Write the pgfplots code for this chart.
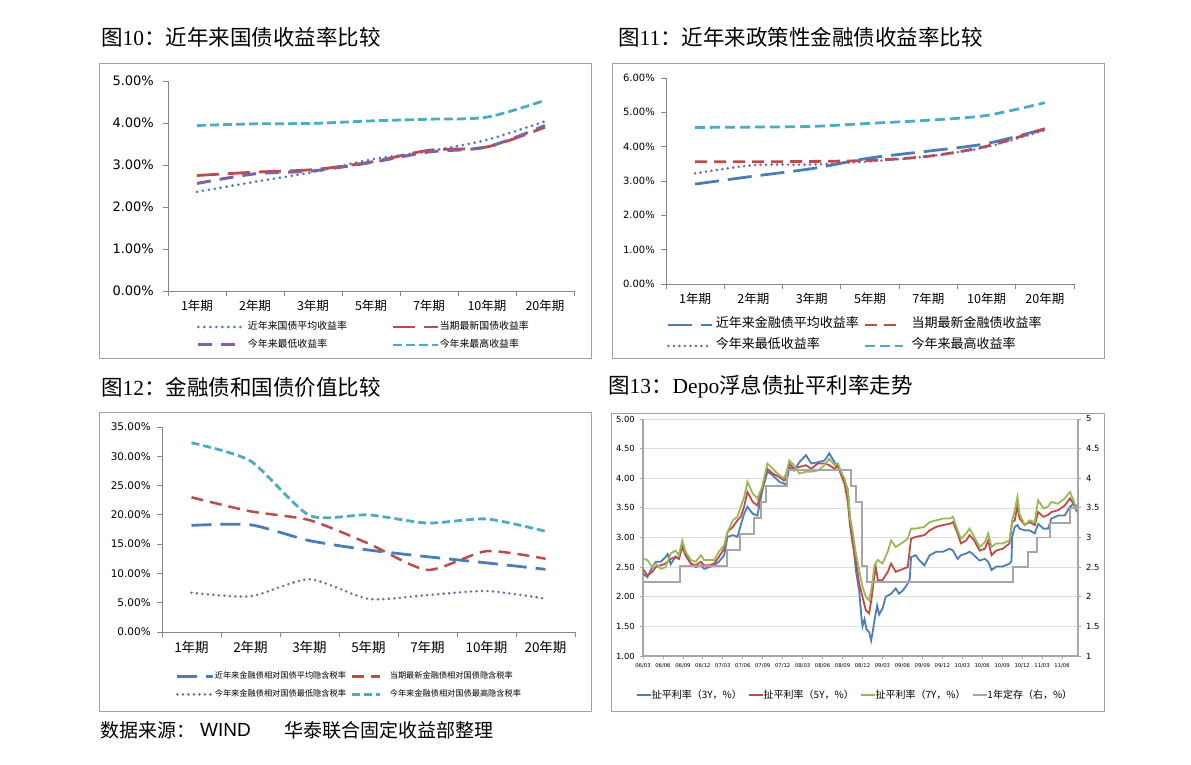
\documentclass[border=0pt]{standalone}
\usepackage{fontspec}
\usepackage{pgfplots}
\pgfplotsset{compat=1.18}
\setmainfont{Liberation Serif}
\newfontfamily\cjk{Noto Sans CJK SC}
\newfontfamily\dvs{DejaVu Sans}
\newfontfamily\ars{Liberation Sans}

\definecolor{xlblue}{HTML}{4A7EBB}
\definecolor{xlred}{HTML}{BE4B48}
\definecolor{xlpurple}{HTML}{7F62A1}
\definecolor{xlcyan}{HTML}{4BACC6}
\definecolor{xlgreen}{HTML}{98B954}
\definecolor{xlgray}{HTML}{A6A6A6}
\definecolor{axgray}{HTML}{868686}
\definecolor{framegray}{HTML}{A0A0A0}
\definecolor{gridgray}{HTML}{DDDDDD}

\pgfplotsset{
  tenor/.style={
    scale only axis, anchor=south west, axis lines*=left,
    axis line style={axgray, line width=0.9pt},
    xmin=0.5, xmax=7.5, xtick={1,...,7},
    xticklabels={1年期,2年期,3年期,5年期,7年期,10年期,20年期},
    minor xtick={0.5,1.5,...,7.5},
    major x tick style={draw=none},
    minor x tick style={axgray, line width=0.9pt},
    y tick style={axgray, line width=0.9pt},
    tick align=outside, major tick length=5pt, minor tick length=5pt,
    yticklabel style={inner sep=0pt, xshift=-6pt},
    xticklabel style={inner sep=0pt, yshift=-4pt},
    clip=false,
    legend cell align=left,
    legend style={draw=none, fill=none, inner sep=0pt, outer sep=0pt,
      anchor=north west, legend columns=2,
      nodes={inner sep=0pt, text height=7pt, text depth=2pt}},
  },
  sample/.style={legend image code/.code={\draw[##1] (0pt,0pt) -- (#1,0pt);}},
  dots/.style={line cap=round, dash pattern=on 0pt off #1},
}

\begin{document}
\begin{tikzpicture}[x=1pt,y=1pt]
\useasboundingbox (0,0) rectangle (1191,765);

% frames
\draw[framegray, line width=0.9pt] (99,702) rectangle (591,407);
\draw[framegray, line width=0.9pt] (612,702) rectangle (1104,407);
\draw[framegray, line width=0.9pt] (99,353) rectangle (591,54);
\draw[framegray, line width=0.9pt] (611,352) rectangle (1104,54);

% titles
\node[anchor=west, inner sep=0pt] at (101,728) {\fontsize{21.5}{24}\selectfont{\cjk 图}10{\cjk ：近年来国债收益率比较}};
\node[anchor=west, inner sep=0pt] at (618,728) {\fontsize{21.5}{24}\selectfont{\cjk 图}11{\cjk ：近年来政策性金融债收益率比较}};
\node[anchor=west, inner sep=0pt] at (101,378) {\fontsize{21.5}{24}\selectfont{\cjk 图}12{\cjk ：金融债和国债价值比较}};
\node[anchor=west, inner sep=0pt] at (608,378) {\fontsize{21.5}{24}\selectfont{\cjk 图}13{\cjk ：}Depo{\cjk 浮息债扯平利率走势}};

% source line
\node[anchor=west, inner sep=0pt] at (100,35) {\fontsize{19}{22}\selectfont\cjk 数据来源：};
\node[anchor=west, inner sep=0pt] at (200,35) {\fontsize{19}{22}\selectfont\ars WIND};
\node[anchor=west, inner sep=0pt] at (284,35) {\fontsize{19}{22}\selectfont\cjk 华泰联合固定收益部整理};

% ---------- government bond yields ----------
\begin{axis}[tenor, at={(168pt,474pt)}, width=406pt, height=210pt,
  ymin=0, ymax=5, ytick={0,...,5},
  yticklabels={0.00\%,1.00\%,2.00\%,3.00\%,4.00\%,5.00\%},
  yticklabel style={font=\dvs\fontsize{13}{14}\selectfont, xshift=-3pt},
  xticklabel style={font=\cjk\fontsize{12.5}{14}\selectfont},
  legend style={at={(0.0714,-0.150)}, font=\cjk\fontsize{9.9}{12}\selectfont,
    row sep=9pt,
    /tikz/every odd column/.append style={column sep=6pt},
    /tikz/every even column/.append style={column sep=45pt}},
]
\addplot[xlblue, line width=3pt, dots=6pt, smooth, sample=42pt]
  coordinates {(1,2.36)(2,2.60)(3,2.83)(4,3.13)(5,3.33)(6,3.60)(7,4.04)};
\addlegendentry{近年来国债平均收益率}
\addplot[xlred, line width=2.8pt, dash pattern=on 22pt off 9pt, smooth, sample=45pt]
  coordinates {(1,2.75)(2,2.83)(3,2.89)(4,3.07)(5,3.35)(6,3.43)(7,3.90)};
\addlegendentry{\hspace{-6pt}当期最新国债收益率}
\addplot[xlpurple, line width=3pt, dash pattern=on 14pt off 9pt, smooth, sample=42pt]
  coordinates {(1,2.56)(2,2.79)(3,2.86)(4,3.06)(5,3.31)(6,3.43)(7,3.94)};
\addlegendentry{今年来最低收益率}
\addplot[xlcyan, line width=2.8pt, dash pattern=on 9pt off 4pt, smooth, sample=45pt]
  coordinates {(1,3.94)(2,3.98)(3,3.99)(4,4.05)(5,4.09)(6,4.14)(7,4.54)};
\addlegendentry{\hspace{-6pt}今年来最高收益率}
\end{axis}

% ---------- policy bank bond yields ----------
\begin{axis}[tenor, at={(666pt,481pt)}, width=408pt, height=206pt,
  ymin=0, ymax=6, ytick={0,...,6},
  yticklabels={0.00\%,1.00\%,2.00\%,3.00\%,4.00\%,5.00\%,6.00\%},
  yticklabel style={font=\dvs\fontsize{10}{12}\selectfont},
  xticklabel style={font=\cjk\fontsize{12.5}{14}\selectfont},
  legend style={at={(0.0025,-0.177)}, font=\cjk\fontsize{13}{15}\selectfont,
    row sep=12pt,
    /tikz/every odd column/.append style={column sep=2pt},
    /tikz/every even column/.append style={column sep=5pt}},
]
\addplot[xlblue, line width=2.8pt, dash pattern=on 24pt off 9pt, smooth, sample=44pt]
  coordinates {(1,2.91)(2,3.14)(3,3.36)(4,3.67)(5,3.87)(6,4.09)(7,4.52)};
\addlegendentry{近年来金融债平均收益率}
\addplot[xlred, line width=2.8pt, dash pattern=on 12pt off 7pt, smooth, sample=38pt]
  coordinates {(1,3.56)(2,3.56)(3,3.57)(4,3.60)(5,3.72)(6,4.01)(7,4.52)};
\addlegendentry{\hspace{5pt}当期最新金融债收益率}
\addplot[xlpurple, line width=2.8pt, dots=5.5pt, smooth, sample=39pt]
  coordinates {(1,3.22)(2,3.46)(3,3.48)(4,3.57)(5,3.72)(6,3.99)(7,4.48)};
\addlegendentry{今年来最低收益率}
\addplot[xlcyan, line width=2.8pt, dash pattern=on 10pt off 5pt, smooth, sample=38pt]
  coordinates {(1,4.56)(2,4.57)(3,4.59)(4,4.68)(5,4.77)(6,4.91)(7,5.28)};
\addlegendentry{\hspace{5pt}今年来最高收益率}
\end{axis}

% ---------- implied tax rate ----------
\begin{axis}[tenor, at={(162pt,133pt)}, width=413pt, height=205pt,
  ymin=0, ymax=35, ytick={0,5,...,35},
  yticklabels={0.00\%,5.00\%,10.00\%,15.00\%,20.00\%,25.00\%,30.00\%,35.00\%},
  yticklabel style={font=\dvs\fontsize{10.5}{12}\selectfont},
  xticklabel style={font=\cjk\fontsize{13.5}{15}\selectfont},
  legend style={at={(0.0339,-0.195)}, font=\cjk\fontsize{8.2}{10}\selectfont,
    row sep=9pt,
    /tikz/every odd column/.append style={column sep=0pt},
    /tikz/every even column/.append style={column sep=5pt}},
]
\addplot[xlblue, line width=2.8pt, dash pattern=on 20pt off 9pt, smooth, tension=0.4, sample=36pt]
  coordinates {(1,18.2)(2,18.3)(3,15.6)(4,14.0)(5,12.85)(6,11.8)(7,10.7)};
\addlegendentry{近年来金融债相对国债平均隐含税率}
\addplot[xlred, line width=2.5pt, dash pattern=on 12pt off 7pt, smooth, tension=0.4, sample=28pt]
  coordinates {(1,23.0)(2,20.6)(3,19.1)(4,15.1)(5,10.6)(6,13.8)(7,12.5)};
\addlegendentry{\hspace{8pt}当期最新金融债相对国债隐含税率}
\addplot[xlpurple, line width=2.8pt, dots=5.5pt, smooth, tension=0.4, sample=36pt]
  coordinates {(1,6.7)(2,6.1)(3,9.0)(4,5.65)(5,6.3)(6,7.0)(7,5.7)};
\addlegendentry{今年来金融债相对国债最低隐含税率}
\addplot[xlcyan, line width=2.8pt, dash pattern=on 8pt off 4pt, smooth, tension=0.4, sample=28pt]
  coordinates {(1,32.3)(2,29.2)(3,19.9)(4,20.0)(5,18.6)(6,19.3)(7,17.2)};
\addlegendentry{\hspace{8pt}今年来金融债相对国债最高隐含税率}
\end{axis}

% ---------- Depo floater break-even rates (x: months from 2006/03) ----------
\begin{axis}[scale only axis, anchor=south west, at={(643pt,109pt)}, width=435pt, height=237pt,
  xmin=0, xmax=65.4, ymin=1, ymax=5,
  axis x line*=bottom, axis y line*=left,
  axis line style={xlgray, line width=1.2pt},
  ytick={1,1.5,...,5},
  yticklabels={1.00,1.50,2.00,2.50,3.00,3.50,4.00,4.50,5.00},
  ymajorgrids, major grid style={gridgray, line width=0.6pt},
  xtick={0,3,...,63},
  xticklabels={06/03,06/06,06/09,06/12,07/03,07/06,07/09,07/12,08/03,08/06,08/09,08/12,09/03,09/06,09/09,09/12,10/03,10/06,10/09,10/12,11/03,11/06},
  tick align=outside, major tick length=3pt, tick style={xlgray, line width=0.8pt},
  yticklabel style={font=\dvs\fontsize{8.4}{10}\selectfont, inner sep=0pt, xshift=-5pt},
  xticklabel style={font=\dvs\fontsize{5.3}{6}\selectfont, inner sep=0pt, yshift=-4pt},
  legend columns=4, legend cell align=left,
  legend style={draw=none, fill=none, inner sep=0pt, outer sep=0pt,
    at={(-0.016,-0.164)}, anchor=west, font=\cjk\fontsize{10}{12}\selectfont,
    nodes={inner sep=0pt},
    /tikz/every odd column/.append style={column sep=0pt},
    /tikz/every even column/.append style={column sep=6pt}},
  legend image code/.code={\draw[#1] (0pt,0pt) -- (14pt,0pt);},
]
\addplot[xlblue, line width=1.8pt] coordinates {
(0,2.39)(0.65,2.33)(1.4,2.50)(1.9,2.59)(2.66,2.59)(3.4,2.67)(3.7,2.72)(4.17,2.55)
(4.9,2.68)(5.4,2.64)(5.9,2.87)(6.4,2.70)(7.2,2.56)(7.93,2.50)(8.7,2.53)(9.2,2.47)
(9.94,2.50)(10.7,2.53)(11.4,2.59)(12.2,2.70)(12.7,3.01)(13.5,3.04)(14.2,3.01)(14.7,3.21)
(15.2,3.40)(15.7,3.52)(16.5,3.40)(17.2,3.37)(17.9,3.77)(18.7,4.11)(19.5,4.05)(20.5,3.94)
(21.2,3.91)(21.5,3.88)(22.0,4.19)(22.7,4.13)(23.5,4.27)(24.5,4.39)(25.3,4.25)(26.3,4.27)
(27.3,4.30)(28.0,4.42)(28.8,4.27)(29.3,4.19)(29.8,4.08)(30.3,3.94)(30.8,3.80)(31.1,3.35)
(31.5,3.00)(32.0,2.45)(32.5,2.10)(32.8,1.70)(33.0,1.50)(33.3,1.62)(33.6,1.45)(34.0,1.40)
(34.3,1.26)(34.6,1.45)(34.8,1.60)(35.2,1.85)(35.5,1.70)(36.0,1.80)(36.5,2.00)(37.3,2.05)
(38.0,2.14)(38.5,2.05)(39.1,2.11)(39.8,2.22)(40.1,2.30)(40.3,2.67)(41.0,2.70)(41.5,2.62)
(42.3,2.53)(43.1,2.70)(44.1,2.76)(45.1,2.76)(46.1,2.81)(46.6,2.78)(47.3,2.64)(47.8,2.70)
(48.6,2.73)(49.1,2.76)(49.8,2.70)(50.6,2.61)(51.4,2.64)(51.9,2.59)(52.4,2.45)(53.1,2.51)
(54.1,2.51)(55.1,2.56)(55.4,2.60)(55.5,3.01)(55.9,3.18)(56.3,3.21)(56.6,3.15)(57.4,3.12)
(58.1,3.12)(58.9,3.07)(59.4,3.23)(60.2,3.15)(60.9,3.15)(61.4,3.32)(62.4,3.37)(63.4,3.37)
(64.2,3.52)(64.7,3.57)(65.1,3.46)(65.4,3.42)};
\addlegendentry{扯平利率（3Y，\%）}
\addplot[xlred, line width=1.8pt] coordinates {
(0,2.47)(0.65,2.36)(1.4,2.42)(1.9,2.50)(2.66,2.53)(3.4,2.56)(4.17,2.64)(4.9,2.67)
(5.4,2.64)(5.9,2.84)(6.4,2.70)(7.2,2.56)(7.93,2.53)(8.7,2.59)(9.2,2.53)(9.94,2.53)
(10.7,2.56)(11.4,2.67)(12.2,2.81)(12.7,3.09)(13.5,3.18)(14.2,3.29)(14.7,3.35)(15.2,3.52)
(15.7,3.77)(16.5,3.60)(17.2,3.54)(17.9,3.82)(18.7,4.16)(19.5,4.08)(20.5,4.02)(21.2,3.96)
(21.5,3.99)(22.0,4.25)(22.7,4.16)(23.5,4.19)(24.5,4.22)(25.3,4.16)(26.3,4.25)(27.3,4.25)
(28.0,4.22)(28.8,4.16)(29.3,4.22)(29.8,4.05)(30.3,3.91)(30.8,3.60)(31.1,3.23)(31.5,2.90)
(32.0,2.61)(32.5,2.22)(33.0,2.00)(33.5,1.77)(34.0,1.72)(34.4,2.00)(34.8,2.37)(35.0,2.50)
(35.3,2.28)(36.0,2.28)(36.8,2.42)(37.3,2.56)(38.0,2.42)(39.1,2.47)(39.8,2.50)(40.3,2.98)
(41.0,3.01)(42.3,3.04)(43.1,3.12)(44.1,3.18)(45.1,3.21)(46.1,3.23)(46.6,3.26)(47.3,3.07)
(47.8,2.90)(48.6,2.95)(49.1,3.04)(49.8,2.95)(50.6,2.78)(51.4,2.81)(51.9,2.95)(52.4,2.70)
(53.1,2.78)(54.1,2.81)(55.1,2.90)(55.5,3.26)(55.9,3.29)(56.3,3.54)(56.6,3.32)(57.4,3.21)
(58.1,3.26)(58.9,3.21)(59.4,3.43)(60.2,3.35)(60.9,3.38)(61.4,3.43)(62.4,3.46)(63.4,3.54)
(64.2,3.66)(64.7,3.57)(65.1,3.54)(65.4,3.50)};
\addlegendentry{扯平利率（5Y，\%）}
\addplot[xlgreen, line width=1.8pt] coordinates {
(0,2.64)(0.65,2.62)(1.4,2.50)(1.9,2.56)(2.66,2.47)(3.4,2.50)(4.17,2.73)(4.9,2.78)
(5.4,2.70)(5.9,2.95)(6.4,2.76)(7.2,2.62)(7.93,2.59)(8.7,2.70)(9.2,2.62)(9.94,2.62)
(10.7,2.62)(11.4,2.76)(12.2,2.87)(12.7,3.09)(13.5,3.29)(14.2,3.35)(14.7,3.52)(15.2,3.68)
(15.7,3.94)(16.5,3.74)(17.2,3.66)(17.9,3.85)(18.7,4.25)(19.5,4.16)(20.5,4.05)(21.2,4.00)
(21.5,4.08)(22.0,4.30)(22.7,4.22)(23.5,4.08)(24.5,4.11)(25.3,4.11)(26.3,4.13)(27.3,4.22)
(28.0,4.33)(28.8,4.22)(29.3,4.25)(29.8,4.11)(30.3,3.99)(30.8,3.80)(31.1,3.35)(31.5,3.12)
(32.0,2.73)(32.5,2.45)(33.0,2.17)(33.5,2.00)(34.0,1.94)(34.4,2.17)(34.8,2.53)(35.3,2.62)
(36.0,2.56)(36.8,2.76)(37.3,2.95)(38.0,2.84)(39.1,2.92)(39.8,2.98)(40.3,3.15)(41.0,3.15)
(42.3,3.18)(43.1,3.26)(44.1,3.29)(45.1,3.32)(46.1,3.32)(46.6,3.35)(47.3,3.12)(47.8,2.98)
(48.6,3.07)(49.1,3.15)(49.8,3.01)(50.6,2.84)(51.4,2.92)(51.9,3.07)(52.4,2.84)(53.1,2.90)
(54.1,2.90)(55.1,2.95)(55.5,3.29)(55.9,3.46)(56.3,3.69)(56.6,3.40)(57.4,3.21)(58.1,3.29)
(58.9,3.26)(59.4,3.63)(60.2,3.49)(60.9,3.52)(61.4,3.60)(62.4,3.57)(63.4,3.66)(64.2,3.77)
(64.7,3.63)(65.1,3.49)(65.4,3.52)};
\addlegendentry{扯平利率（7Y，\%）}
\addplot[xlgray, line width=1.8pt, const plot] coordinates {
(0,2.25)(5.6,2.52)(12.57,2.79)(14.6,3.06)(16.67,3.33)(17.7,3.60)(18.47,3.87)(21.67,4.14)
(31.27,3.87)(31.97,3.60)(32.87,2.52)(33.73,2.25)(55.63,2.50)(57.83,2.75)(59.27,3.00)
(61.17,3.25)(64.2,3.50)(65.4,3.50)};
\addlegendentry{1年定存（右，\%）}
\end{axis}

\begin{axis}[scale only axis, anchor=south west, at={(643pt,109pt)}, width=435pt, height=237pt,
  xmin=0, xmax=65.4, ymin=1, ymax=5,
  axis x line=none, axis y line*=right,
  axis line style={xlgray, line width=1.8pt},
  ytick={1,1.5,...,5},
  yticklabels={1,1.5,2,2.5,3,3.5,4,4.5,5},
  tick align=outside, major tick length=3pt, tick style={xlgray, line width=0.8pt},
  yticklabel style={font=\dvs\fontsize{8.4}{10}\selectfont, inner sep=0pt, xshift=5pt},
]
\end{axis}

\end{tikzpicture}
\end{document}
